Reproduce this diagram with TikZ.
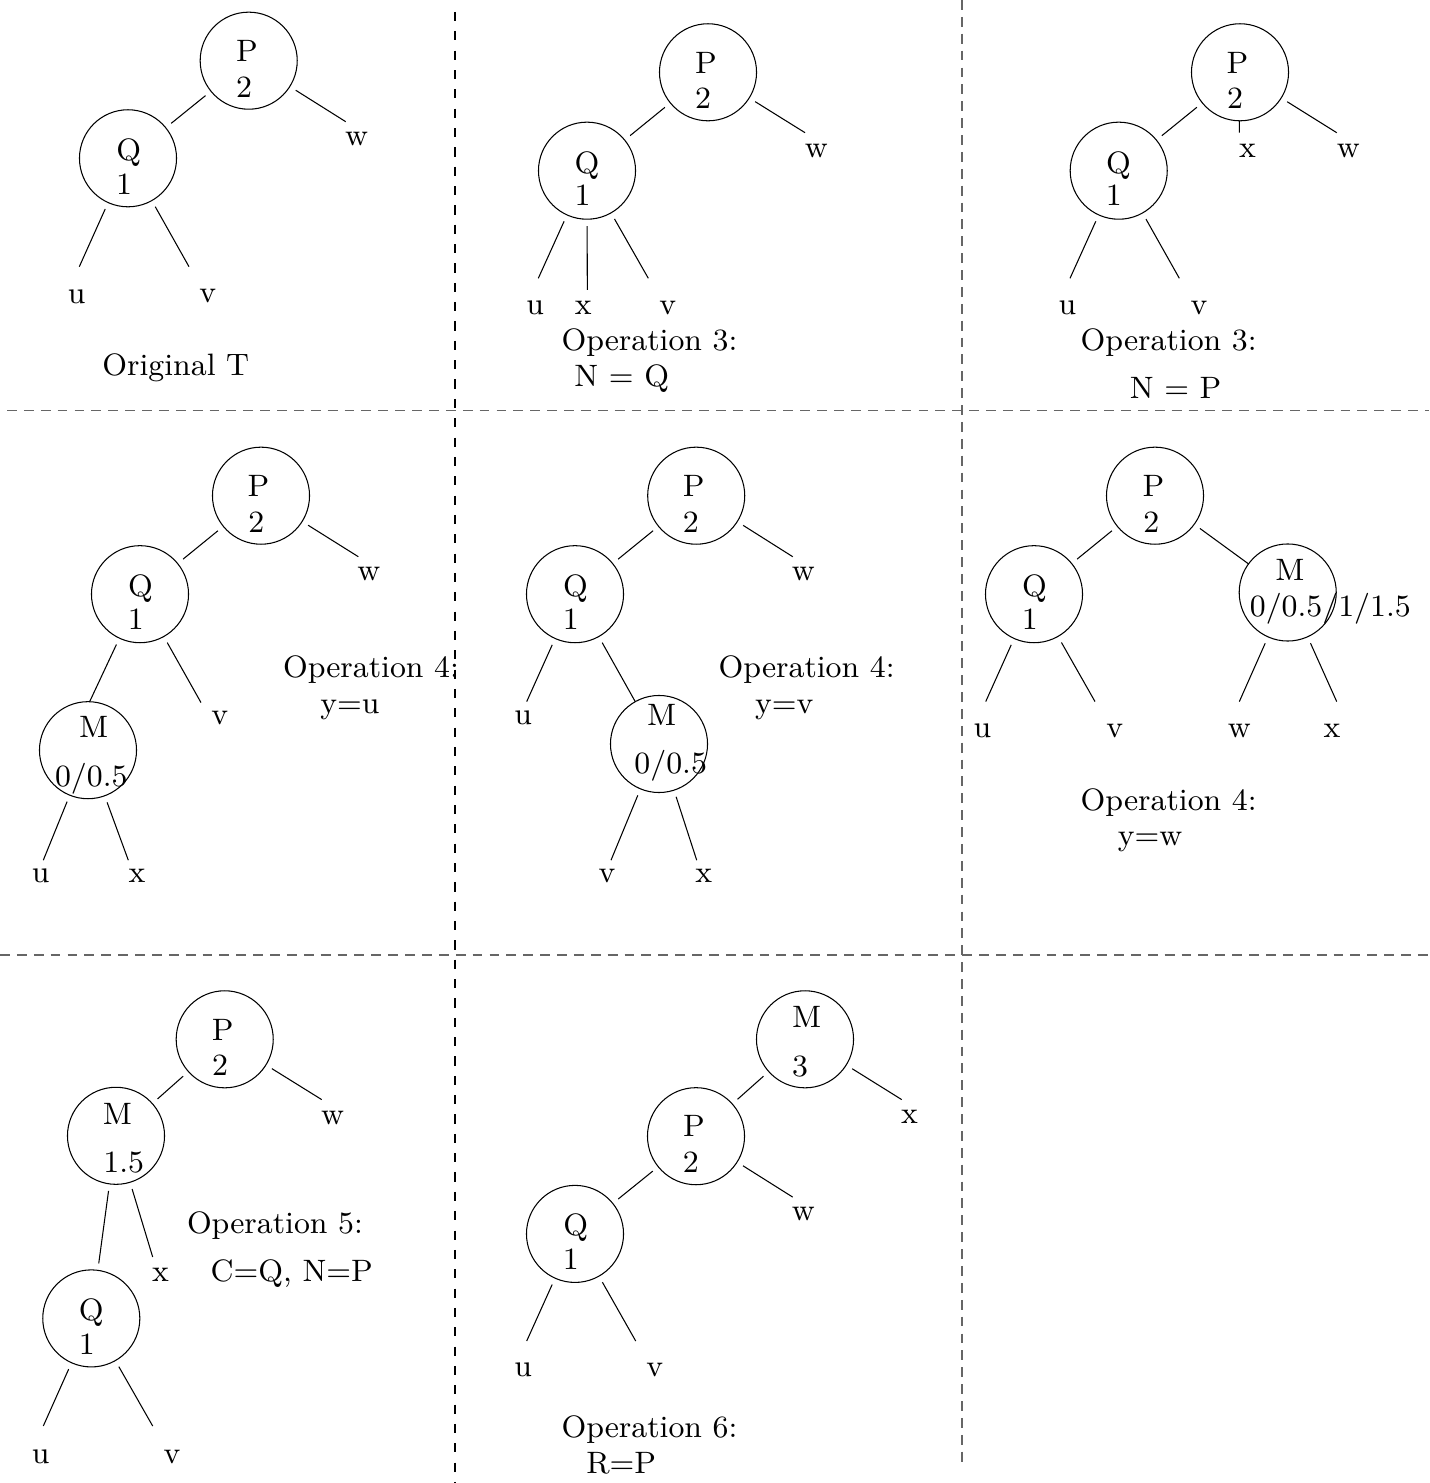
\documentclass[tikz,border=0pt]{standalone}
\usepackage{tikz}
\begin{document}
\begin{tikzpicture}[x=0.01cm, y=-0.01cm, line width=0.3pt,
    circ/.style={circle, draw, minimum size=0.97cm, inner sep=0pt, outer sep=2pt},
    lbl/.style={anchor=base, inner sep=0pt, font=\fontsize{8.8pt}{10.5pt}\selectfont},
    touch/.style={shorten >=-2pt},
    lead/.style={shorten <=-2pt},
    vsep/.style={dash pattern=on 2.6pt off 2.9pt, line width=0.3pt},
    hsep/.style={dash pattern=on 2.8pt off 2pt, line width=0.4pt, black!60}
]
    \useasboundingbox (0,0) rectangle (1429,1483);

    % separators
    \draw[vsep] (455,12)  -- (455,1483);
    \draw[hsep] (962,0)   -- (962,1462);
    \draw[hsep] (7,410.5) -- (1429,410.5);
    \draw[hsep] (0,955)   -- (1429,955);

    % original T
    \node[circ] (p1) at (248.7,60.7) {};
    \node[circ] (q1) at (128,158.3)  {};
    \node[lbl] (p1a) at (247,62)     {P};
    \node[lbl] (p1b) at (244,97.5)   {2};
    \node[lbl] (q1a) at (128.8,160.5) {Q};
    \node[lbl] (q1b) at (124,194.5)  {1};
    \node[lbl] (lw1) at (356.7,146)  {w};
    \node[lbl] (lu1) at (76.7,304)   {u};
    \node[lbl] (lv1) at (207.7,303)  {v};
    \node[lbl] (cap1) at (175.8,375.5) {Original T};
    \coordinate (w1) at (345.7,121.7);
    \coordinate (u1) at (79.3,266.7);
    \coordinate (v1) at (189,266.7);
    \draw (p1) -- (q1);
    \draw (p1) -- (w1);
    \draw (q1) -- (u1);
    \draw (q1) -- (v1);

    % operation 3, N = Q
    \node[circ] (p2) at (708,72.3)  {};
    \node[circ] (q2) at (587,170.7) {};
    \node[lbl] (p2a) at (706,73.3)   {P};
    \node[lbl] (p2b) at (703,109)    {2};
    \node[lbl] (q2a) at (587,173.3)  {Q};
    \node[lbl] (q2b) at (582.5,206)  {1};
    \node[lbl] (lw2) at (816.3,157.3) {w};
    \node[lbl] (lu2) at (535.3,315)  {u};
    \node[lbl] (lx2) at (583.3,315)  {x};
    \node[lbl] (lv2) at (667.8,315)  {v};
    \node[lbl] (cap2a) at (649.5,350.7) {Operation 3:};
    \node[lbl] (cap2b) at (621.7,386.7) {N = Q};
    \coordinate (w2) at (805,132.7);
    \coordinate (u2) at (538.3,278.3);
    \coordinate (x2) at (587.3,290);
    \coordinate (v2) at (648.3,278.3);
    \draw (p2) -- (q2);
    \draw (p2) -- (w2);
    \draw (q2) -- (u2);
    \draw (q2) -- (x2);
    \draw (q2) -- (v2);

    % operation 3, N = P
    \node[circ] (p3) at (1240,72.3)    {};
    \node[circ] (q3) at (1118.7,170.7) {};
    \node[lbl] (p3a) at (1237.5,73.3)  {P};
    \node[lbl] (p3b) at (1235,109)     {2};
    \node[lbl] (q3a) at (1118.5,173.3) {Q};
    \node[lbl] (q3b) at (1113.8,206)   {1};
    \node[lbl] (lx3) at (1247.5,157.3) {x};
    \node[lbl] (lw3) at (1348.3,157.3) {w};
    \node[lbl] (lu3) at (1067.5,315)   {u};
    \node[lbl] (lv3) at (1199,315)     {v};
    \node[lbl] (cap3a) at (1168.7,350.7) {Operation 3:};
    \node[lbl] (cap3b) at (1175.5,399)   {N = P};
    \coordinate (x3) at (1239.3,132.7);
    \coordinate (w3) at (1336.7,132.7);
    \coordinate (u3) at (1070,278.3);
    \coordinate (v3) at (1179.3,278.3);
    \draw (p3) -- (q3);
    \draw[lead] (p3) -- (x3);
    \draw (p3) -- (w3);
    \draw (q3) -- (u3);
    \draw (q3) -- (v3);

    % operation 4, y=u
    \node[circ] (p4) at (261,495.7) {};
    \node[circ] (q4) at (140,594.2) {};
    \node[circ] (m4) at (88,750.2)  {};
    \node[lbl] (p4a) at (258.5,496.2) {P};
    \node[lbl] (p4b) at (256.3,532.4) {2};
    \node[lbl] (q4a) at (140.5,596.3) {Q};
    \node[lbl] (q4b) at (135.8,629.1) {1};
    \node[lbl] (m4a) at (93.8,737.8)  {M};
    \node[lbl] (m4b) at (91.3,786)    {0/0.5};
    \node[lbl] (lw4) at (368.8,580.8) {w};
    \node[lbl] (lv4) at (219.7,724.6) {v};
    \node[lbl] (lu4) at (40.8,882.7)  {u};
    \node[lbl] (lx4) at (137,882.7)   {x};
    \node[lbl] (cap4a) at (371,677.3) {Operation 4:};
    \node[lbl] (cap4b) at (350,713.6) {y=u};
    \coordinate (w4) at (358.3,556.7);
    \coordinate (v4) at (201,702.6);
    \coordinate (u4) at (43.3,860.2);
    \coordinate (x4) at (128.3,860.2);
    \draw (p4) -- (q4);
    \draw (p4) -- (w4);
    \draw[touch] (q4) -- (m4.85);
    \draw (q4) -- (v4);
    \draw (m4) -- (u4);
    \draw (m4) -- (x4);

    % operation 4, y=v
    \node[circ] (p5) at (696.2,495.7) {};
    \node[circ] (q5) at (575,594.2)   {};
    \node[circ] (m5) at (659,744)     {};
    \node[lbl] (p5a) at (693.8,496.2) {P};
    \node[lbl] (p5b) at (690.7,532.4) {2};
    \node[lbl] (q5a) at (575.5,596.3) {Q};
    \node[lbl] (q5b) at (570.8,629.1) {1};
    \node[lbl] (m5a) at (661.7,725.7) {M};
    \node[lbl] (m5b) at (670.7,774)   {0/0.5};
    \node[lbl] (lw5) at (803.3,580.8) {w};
    \node[lbl] (lu5) at (523.3,724.6) {u};
    \node[lbl] (lv5) at (607,882)     {v};
    \node[lbl] (lx5) at (703.8,882)   {x};
    \node[lbl] (cap5a) at (806.7,677.3) {Operation 4:};
    \node[lbl] (cap5b) at (784.2,713.6) {y=v};
    \coordinate (w5) at (792.7,556.7);
    \coordinate (u5) at (526.7,701.6);
    \coordinate (v5) at (611,860.2);
    \coordinate (x5) at (696.7,860.2);
    \draw (p5) -- (q5);
    \draw (p5) -- (w5);
    \draw (q5) -- (u5);
    \draw[touch] (q5) -- (m5);
    \draw (m5) -- (v5);
    \draw (m5) -- (x5);

    % operation 4, y=w
    \node[circ] (p6) at (1155,495.7)   {};
    \node[circ] (q6) at (1034,594.2)   {};
    \node[circ] (m6) at (1287.7,592.5) {};
    \node[lbl] (p6a) at (1153.5,496.2) {P};
    \node[lbl] (p6b) at (1151.2,532.4) {2};
    \node[lbl] (q6a) at (1034.5,596.3) {Q};
    \node[lbl] (q6b) at (1029.8,629.1) {1};
    \node[lbl] (m6a) at (1290,580.8)   {M};
    \node[lbl] (m6b) at (1330.3,617)   {0/0.5/1/1.5};
    \node[lbl] (lu6) at (982.5,737.8)  {u};
    \node[lbl] (lv6) at (1114.7,737.8) {v};
    \node[lbl] (lw6) at (1239.3,737.8) {w};
    \node[lbl] (lx6) at (1332,737.8)   {x};
    \node[lbl] (cap6a) at (1168.7,810.2) {Operation 4:};
    \node[lbl] (cap6b) at (1150,845.7)   {y=w};
    \coordinate (u6) at (985.7,701.6);
    \coordinate (v6) at (1095,701.6);
    \coordinate (w6) at (1239.3,701.6);
    \coordinate (x6) at (1336.7,701.6);
    \draw (p6) -- (q6);
    \draw[touch] (p6) -- (m6);
    \draw (q6) -- (u6);
    \draw (q6) -- (v6);
    \draw (m6) -- (w6);
    \draw (m6) -- (x6);

    % operation 5
    \node[circ] (p7) at (224.7,1039.3) {};
    \node[circ] (m7) at (116,1135.8)   {};
    \node[circ] (q7) at (91.3,1318.4)  {};
    \node[lbl] (p7a) at (222.8,1040.1) {P};
    \node[lbl] (p7b) at (220,1075.8)   {2};
    \node[lbl] (m7a) at (117.5,1124.1) {M};
    \node[lbl] (m7b) at (123.8,1172.7) {1.5};
    \node[lbl] (q7a) at (91.3,1320.6)  {Q};
    \node[lbl] (q7b) at (86.8,1354.6)  {1};
    \node[lbl] (lw7) at (332.7,1124.1) {w};
    \node[lbl] (lx7) at (160.5,1281.5) {x};
    \node[lbl] (lu7) at (40.8,1463.4)  {u};
    \node[lbl] (lv7) at (172,1463.4)   {v};
    \node[lbl] (cap7a) at (275,1233.3) {Operation 5:};
    \node[lbl] (cap7b) at (291.7,1281.5) {C=Q, N=P};
    \coordinate (w7) at (321.7,1099.6);
    \coordinate (x7) at (152.7,1257);
    \coordinate (u7) at (43.3,1426);
    \coordinate (v7) at (152.7,1426);
    \draw (p7) -- (m7);
    \draw (p7) -- (w7);
    \draw (m7) -- (q7);
    \draw (m7) -- (x7);
    \draw (q7) -- (u7);
    \draw (q7) -- (v7);

    % operation 6
    \node[circ] (m8) at (805,1039.3) {};
    \node[circ] (p8) at (696,1136.2) {};
    \node[circ] (q8) at (575,1233.9) {};
    \node[lbl] (m8a) at (806.7,1027.5) {M};
    \node[lbl] (m8b) at (800,1076.5)   {3};
    \node[lbl] (p8a) at (694,1136.4)   {P};
    \node[lbl] (p8b) at (690.7,1172.7) {2};
    \node[lbl] (q8a) at (575.8,1235.6) {Q};
    \node[lbl] (q8b) at (570.8,1269)   {1};
    \node[lbl] (lx8) at (909.5,1123.4) {x};
    \node[lbl] (lw8) at (803.3,1220.3) {w};
    \node[lbl] (lu8) at (523.3,1376.7) {u};
    \node[lbl] (lv8) at (654.7,1376.7) {v};
    \node[lbl] (cap8a) at (649.5,1437.9) {Operation 6:};
    \node[lbl] (cap8b) at (621.2,1473.6) {R=P};
    \coordinate (x8) at (901.7,1099.6);
    \coordinate (w8) at (792.7,1197.1);
    \coordinate (u8) at (526.7,1341);
    \coordinate (v8) at (635.7,1341);
    \draw (m8) -- (p8);
    \draw (m8) -- (x8);
    \draw (p8) -- (q8);
    \draw (p8) -- (w8);
    \draw (q8) -- (u8);
    \draw (q8) -- (v8);
\end{tikzpicture}
\end{document}
